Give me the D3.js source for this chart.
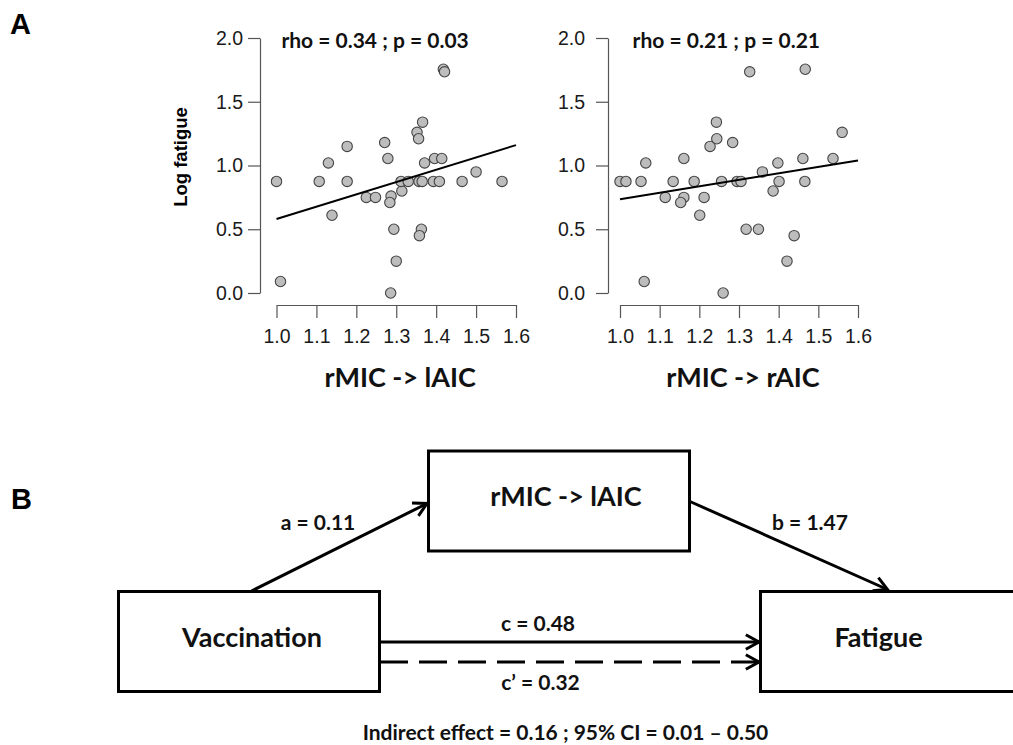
<!DOCTYPE html>
<html>
<head>
<meta charset="utf-8">
<script src="https://cdn.jsdelivr.net/npm/d3@7"></script>
<style>
  body { margin: 0; background: #fff; }
  .tick text { font-family: "Liberation Sans", Arial, sans-serif; font-size: 19.5px; fill: #1a1a1a; }
  .calib { font-family: Lato, "Open Sans", sans-serif; font-weight: bold; fill: #111; }
</style>
</head>
<body>
<svg width="1013" height="745"></svg>
<script>
// values
var fatigueTicks = [0, 0.5, 1.0, 1.5, 2.0];
var connTicks = [1.0, 1.1, 1.2, 1.3, 1.4, 1.5, 1.6];

// panel A left: rMIC -> lAIC vs log fatigue
var lAicX = [1.00, 1.01, 1.107, 1.13, 1.139, 1.177, 1.177, 1.225, 1.248, 1.271, 1.279, 1.287,
             1.284, 1.294, 1.30, 1.286, 1.314, 1.312, 1.33, 1.352, 1.356, 1.366, 1.371, 1.357,
             1.365, 1.363, 1.358, 1.396, 1.414, 1.393, 1.408, 1.418, 1.421, 1.465, 1.50, 1.565];
var lAicY = [0.875, 0.09, 0.875, 1.02, 0.61, 1.15, 0.875, 0.75, 0.75, 1.18, 1.055, 0.76,
             0.71, 0.50, 0.25, 0.0, 0.80, 0.875, 0.875, 1.26, 1.21, 1.34, 1.02, 0.875,
             0.875, 0.50, 0.45, 1.055, 1.055, 0.875, 0.875, 1.755, 1.735, 0.875, 0.95, 0.875];

// panel A right: rMIC -> rAIC vs log fatigue
var rAicX = [1.00, 1.015, 1.053, 1.065, 1.061, 1.114, 1.134, 1.161, 1.161, 1.153, 1.187, 1.201,
             1.212, 1.227, 1.243, 1.244, 1.256, 1.26, 1.284, 1.295, 1.305, 1.318, 1.327, 1.349,
             1.359, 1.386, 1.398, 1.401, 1.421, 1.439, 1.461, 1.467, 1.466, 1.537, 1.56];
var rAicY = [0.875, 0.875, 0.875, 1.02, 0.09, 0.75, 0.875, 1.055, 0.75, 0.71, 0.875, 0.61,
             0.75, 1.15, 1.34, 1.21, 0.875, 0.0, 1.18, 0.875, 0.875, 0.50, 1.735, 0.50,
             0.95, 0.80, 1.02, 0.875, 0.25, 0.45, 1.055, 1.755, 0.875, 1.055, 1.26];

// fitted lines (value at x = 1.0 and x = 1.6)
var fitX = [1.0, 1.6];
var lAicFit = [0.58, 1.16];
var rAicFit = [0.735, 1.04];

var statLabels = ["rho = 0.34 ; p = 0.03", "rho = 0.21 ; p = 0.21"];
var xTitles = ["rMIC -> lAIC", "rMIC -> rAIC"];

// panel B: mediation model
var nodeNames = ["Vaccination", "rMIC -> lAIC", "Fatigue"];
var pathNames = ["a", "b", "c", "c\u2019"];
var pathCoefs = [0.11, 1.47, 0.48, 0.32];
var indirectText = "Indirect effect = 0.16 ; 95% CI = 0.01 \u2013 0.50";

var svg = d3.select("svg");
var fmt = d3.format(".2f");

// panel letters
svg.append("text").attr("x", 10).attr("y", 34)
    .style("font", "bold 29px 'Liberation Sans', Arial, sans-serif").text("A");
svg.append("text").attr("x", 11).attr("y", 509)
    .style("font", "bold 29px 'Liberation Sans', Arial, sans-serif").text("B");

// one scatter panel
function scatter(opt) {
    var x = d3.scaleLinear().domain([1.0, 1.6]).range([opt.x0, opt.x1]),
        y = d3.scaleLinear().domain([0, 2]).range([293, 38]);

    var g = svg.append("g");

    // y-axis
    g.append("g")
        .attr("transform", "translate(" + opt.yAxisX + ",0)")
        .call(d3.axisLeft(y).tickValues(fatigueTicks).tickFormat(d3.format(".1f"))
            .tickSize(12).tickSizeOuter(0).tickPadding(opt.yPad));

    // x-axis
    g.append("g")
        .attr("transform", "translate(0,305)")
        .call(d3.axisBottom(x).tickValues(connTicks).tickFormat(d3.format(".1f"))
            .tickSize(13).tickSizeOuter(0).tickPadding(11));

    g.selectAll(".domain, .tick line").attr("stroke", "#555").attr("stroke-width", 1.2);

    // points
    g.selectAll(".dot")
        .data(opt.xs.map(function(d, i) { return {x: d, y: opt.ys[i]}; }))
        .enter().append("circle")
        .attr("class", "dot")
        .attr("cx", function(d) { return x(d.x); })
        .attr("cy", function(d) { return y(d.y); })
        .attr("r", 5.2)
        .attr("fill", "#bdbdbd")
        .attr("stroke", "#444")
        .attr("stroke-width", 1.1);

    // fit line
    g.append("path")
        .datum(fitX.map(function(d, i) { return [d, opt.fit[i]]; }))
        .attr("fill", "none")
        .attr("stroke", "#000")
        .attr("stroke-width", 2)
        .attr("d", d3.line().x(function(d) { return x(d[0]); }).y(function(d) { return y(d[1]); }));

    // stats
    g.append("text").attr("class", "calib")
        .attr("x", x(opt.statX)).attr("y", y(1.92))
        .attr("text-anchor", "middle")
        .style("font-size", "21px")
        .text(opt.stat);

    // x title
    g.append("text").attr("class", "calib")
        .attr("x", (opt.x0 + opt.x1) / 2 + 4).attr("y", 387)
        .attr("text-anchor", "middle")
        .style("font-size", "27px")
        .text(opt.title);
}

scatter({x0: 276.5, x1: 516, yAxisX: 260, yPad: 5, xs: lAicX, ys: lAicY, fit: lAicFit,
         stat: statLabels[0], statX: 1.247, title: xTitles[0]});
scatter({x0: 620, x1: 858, yAxisX: 608, yPad: 11, xs: rAicX, ys: rAicY, fit: rAicFit,
         stat: statLabels[1], statX: 1.268, title: xTitles[1]});

// y label
svg.append("text")
    .attr("transform", "translate(187,157) rotate(-90)")
    .attr("text-anchor", "middle")
    .style("font", "bold 18.5px 'Liberation Sans', Arial, sans-serif")
    .text("Log fatigue");

// ---- panel B ----
var boxes = [
    {x: 118.5, y: 591.5, w: 261, h: 100, tx: 252},
    {x: 428.5, y: 451, w: 261, h: 100, tx: 566},
    {x: 760.5, y: 591.5, w: 261, h: 100, tx: 878.5}
];

var b = svg.append("g");
b.selectAll("rect")
    .data(nodeNames)
    .enter().append("rect")
    .attr("x", function(d, i) { return boxes[i].x; })
    .attr("y", function(d, i) { return boxes[i].y; })
    .attr("width", function(d, i) { return boxes[i].w; })
    .attr("height", function(d, i) { return boxes[i].h; })
    .attr("fill", "none")
    .attr("stroke", "#000")
    .attr("stroke-width", 3);

b.selectAll(".node")
    .data(nodeNames)
    .enter().append("text")
    .attr("class", "calib node")
    .attr("x", function(d, i) { return boxes[i].tx; })
    .attr("y", function(d, i) { return boxes[i].y + boxes[i].h / 2 + 5; })
    .attr("text-anchor", "middle")
    .style("font-size", "27px")
    .text(function(d) { return d; });

// arrows: a, b, c, c'
var arrows = [
    {x1: 251.5, y1: 591, x2: 427, y2: 503.5, lx: 318, ly: 530},
    {x1: 690, y1: 501.5, x2: 887.5, y2: 589.5, lx: 810, ly: 530},
    {x1: 380, y1: 642, x2: 759, y2: 642, lx: 538, ly: 630.5},
    {x1: 380, y1: 662, x2: 759, y2: 662, lx: 540.5, ly: 690, dash: "28,11"}
];

function head(d) {
    var a = Math.atan2(d.y2 - d.y1, d.x2 - d.x1), len = 15, sp = 0.5;
    return "M" + (d.x2 - len * Math.cos(a - sp)) + "," + (d.y2 - len * Math.sin(a - sp)) +
        "L" + d.x2 + "," + d.y2 +
        "L" + (d.x2 - len * Math.cos(a + sp)) + "," + (d.y2 - len * Math.sin(a + sp));
}

b.selectAll(".shaft")
    .data(arrows)
    .enter().append("line")
    .attr("x1", function(d) { return d.x1; }).attr("y1", function(d) { return d.y1; })
    .attr("x2", function(d) { return d.x2; }).attr("y2", function(d) { return d.y2; })
    .attr("stroke", "#000").attr("stroke-width", 3)
    .attr("stroke-dasharray", function(d) { return d.dash || null; });

b.selectAll(".head")
    .data(arrows)
    .enter().append("path")
    .attr("d", head)
    .attr("fill", "none").attr("stroke", "#000").attr("stroke-width", 3);

b.selectAll(".plab")
    .data(pathNames)
    .enter().append("text")
    .attr("class", "calib")
    .attr("x", function(d, i) { return arrows[i].lx; })
    .attr("y", function(d, i) { return arrows[i].ly; })
    .attr("text-anchor", "middle")
    .style("font-size", "21px")
    .text(function(d, i) { return d + " = " + fmt(pathCoefs[i]); });

b.append("text")
    .attr("class", "calib")
    .attr("x", 565.5).attr("y", 739.5)
    .attr("text-anchor", "middle")
    .style("font-size", "21px")
    .text(indirectText);
</script>
</body>
</html>
